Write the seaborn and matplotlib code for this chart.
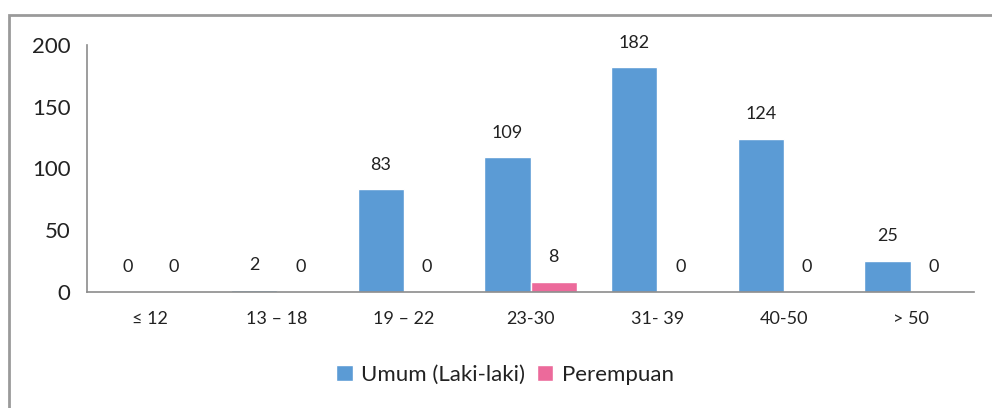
import pandas as pd
import matplotlib.pyplot as plt
import seaborn as sns
from matplotlib.patches import Rectangle

# Age groups and counts per group
age_groups = ['≤ 12', '13 – 18', '19 – 22', '23-30', '31- 39', '40-50', '> 50']
male = [0, 2, 83, 109, 182, 124, 25]
female = [0, 0, 0, 8, 0, 0, 0]
series_names = ['Umum (Laki-laki)', 'Perempuan']

df = pd.DataFrame({
    'Umur': age_groups * 2,
    'Jumlah': male + female,
    'Kelompok': [series_names[0]] * len(age_groups) + [series_names[1]] * len(age_groups),
})

sns.set_style('white')
plt.rcParams['font.family'] = ['Lato', 'DejaVu Sans']

fig = plt.figure(figsize=(9.92, 4.08), dpi=100)
ax = fig.add_axes([87 / 992, 116 / 408, (974 - 87) / 992, (292 - 45) / 408])

palette = {series_names[0]: '#5B9BD5', series_names[1]: '#EC6A9B'}
sns.barplot(data=df, x='Umur', y='Jumlah', hue='Kelompok', palette=palette,
            width=0.73, gap=0, saturation=1, ax=ax)

for cont in ax.containers:
    ax.bar_label(cont, fmt='%d', padding=12, fontsize=13, color='#222222')

ax.set_ylim(0, 200)
ax.set_yticks([0, 50, 100, 150, 200])
ax.set_xlabel('')
ax.set_ylabel('')
ax.tick_params(axis='y', length=0, labelsize=16, pad=12, labelcolor='#222222')
ax.tick_params(axis='x', length=0, labelsize=13, pad=14, labelcolor='#222222')

for side in ['top', 'right']:
    ax.spines[side].set_visible(False)
for side in ['left', 'bottom']:
    ax.spines[side].set_color('#8c8c8c')
    ax.spines[side].set_linewidth(1.2)

# legend at the bottom
handles, labels = ax.get_legend_handles_labels()
ax.legend_.remove()
fig.legend(handles, labels, loc='center', bbox_to_anchor=(505 / 992, 1 - 375 / 408),
           ncol=2, frameon=False, fontsize=16, handlelength=0.75, handleheight=0.75,
           handletextpad=0.4, columnspacing=0.5, labelcolor='#222222')

# outer frame of the chart area
fig.patches.append(Rectangle((9 / 992, -0.1), 1.2, 1.1 - 15 / 408, transform=fig.transFigure,
                             fill=False, edgecolor='#9a9a9a', linewidth=2, zorder=0))

fig.savefig('out.png', dpi=100)
